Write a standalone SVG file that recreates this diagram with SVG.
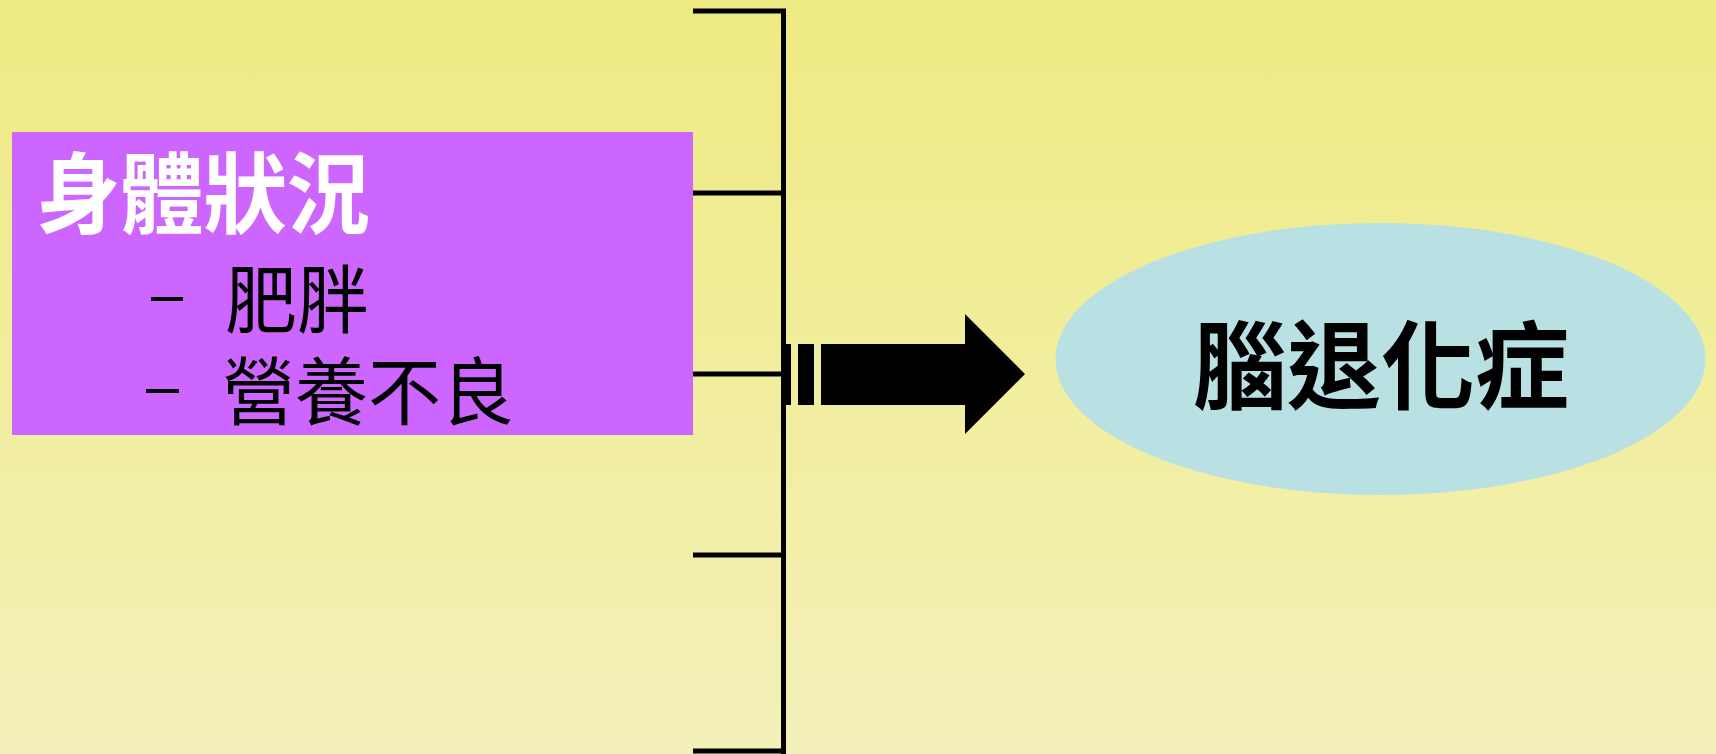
<svg xmlns="http://www.w3.org/2000/svg" width="1716" height="754" viewBox="0 0 1716 754">
<defs>
<linearGradient id="bg" x1="0" y1="0" x2="0" y2="1">
<stop offset="0" stop-color="#EEEA82"/>
<stop offset="0.5" stop-color="#F1EE9E"/>
<stop offset="1" stop-color="#F3F0BA"/>
</linearGradient>
<style>
.cjk{font-family:"Noto Sans CJK TC","Noto Sans CJK SC",sans-serif;}
.dash{font-family:"Liberation Sans",sans-serif;font-size:60px;fill:#000;}
.line{stroke:#000;stroke-width:5;fill:none;}
</style>
</defs>
<rect x="0" y="0" width="1716" height="754" fill="url(#bg)"/>
<g id="connectors">
<line class="line" x1="693" y1="11" x2="786" y2="11"/>
<line class="line" x1="693" y1="193" x2="784" y2="193"/>
<line class="line" x1="693" y1="374" x2="784" y2="374"/>
<line class="line" x1="693" y1="555" x2="784" y2="555"/>
<line class="line" x1="693" y1="751" x2="786" y2="751"/>
<line class="line" x1="783.5" y1="11" x2="783.5" y2="754"/>
<g id="arrow" fill="#000">
<rect x="782" y="344" width="9" height="61"/>
<rect x="798" y="344" width="16" height="61"/>
<polygon points="821,344 965,344 965,314 1025,374 965,434 965,405 821,405"/>
</g>
</g>
<g id="body-condition">
<rect x="12" y="132" width="681" height="303" fill="#CC66FF"/>
<text class="cjk" x="37" y="226" font-size="88" font-weight="700" fill="#fff" textLength="333" lengthAdjust="spacingAndGlyphs">身體狀況</text>
<text class="dash" x="151" y="314" textLength="32" lengthAdjust="spacingAndGlyphs">–</text>
<text class="cjk" x="225" y="327" font-size="74" fill="#000" textLength="144" lengthAdjust="spacingAndGlyphs">肥胖</text>
<text class="dash" x="146" y="406" textLength="33" lengthAdjust="spacingAndGlyphs">–</text>
<text class="cjk" x="222" y="419" font-size="74" fill="#000" textLength="292" lengthAdjust="spacingAndGlyphs">營養不良</text>
</g>
<g id="dementia">
<ellipse cx="1380.5" cy="359" rx="325" ry="136" fill="#B9E0E3"/>
<text class="cjk" x="1193" y="401" font-size="96" font-weight="700" fill="#000" textLength="376" lengthAdjust="spacingAndGlyphs">腦退化症</text>
</g>
</svg>
